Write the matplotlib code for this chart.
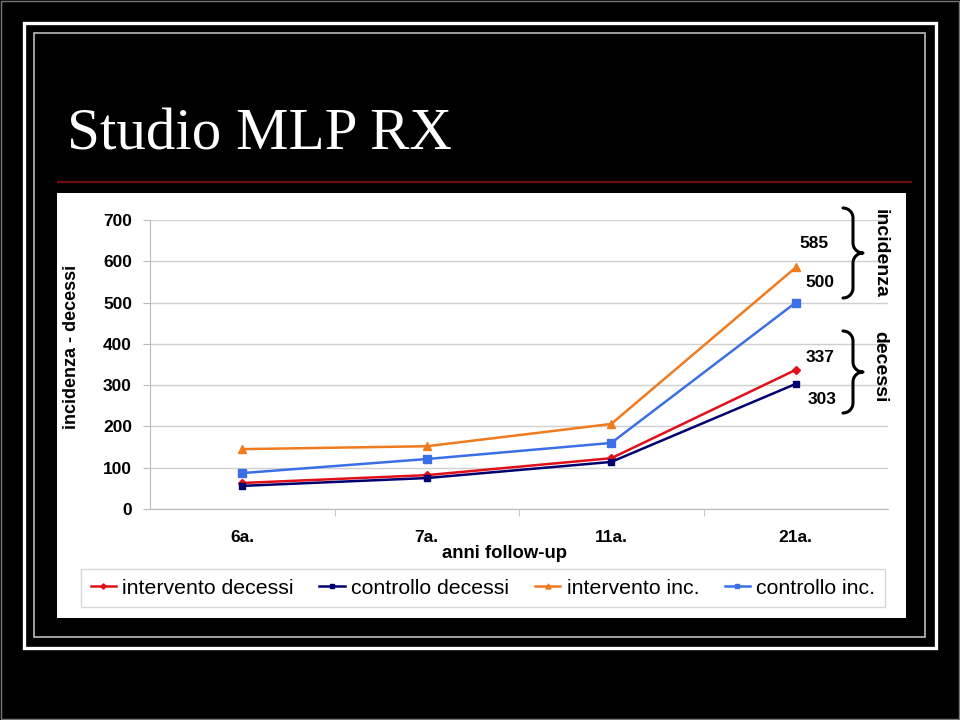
import numpy as np
import matplotlib.pyplot as plt
from matplotlib.patches import Rectangle

#
#   data
#
years = ["6a.", "7a.", "11a.", "21a."]
interventoDecessi = [63, 82, 123, 337]
controlloDecessi = [56, 75, 114, 303]
interventoInc = [145, 152, 206, 585]
controlloInc = [87, 121, 160, 500]
yTicks = [0, 100, 200, 300, 400, 500, 600, 700]

W, H = 960, 720
FONT = "Liberation Sans"


def fx(px):
    return px / W


def fy(py):
    return 1 - py / H


fig = plt.figure(figsize=(9.6, 7.2), dpi=100, facecolor="black")

# slide decoration: frames, title, rule, white panel
fig.patches.append(Rectangle((fx(1), fy(719)), fx(958), 718 / H, transform=fig.transFigure,
                             fill=False, edgecolor="#777777", lw=1, zorder=-5))
fig.patches.append(Rectangle((fx(24), fy(648)), fx(912), 625 / H, transform=fig.transFigure,
                             fill=False, edgecolor="white", lw=2.4, zorder=-5))
fig.patches.append(Rectangle((fx(34), fy(637)), fx(891), 604 / H, transform=fig.transFigure,
                             fill=False, edgecolor="#BBBBBB", lw=1.2, zorder=-5))
fig.patches.append(Rectangle((fx(57), fy(618)), fx(849), 425 / H, transform=fig.transFigure,
                             facecolor="white", edgecolor="none", zorder=-5))
fig.lines.append(plt.Line2D([fx(58), fx(911)], [fy(182), fy(182)], transform=fig.transFigure,
                            color="#6E0C10", lw=1.6, zorder=-5))
fig.text(fx(67), fy(150), "Studio MLP RX", color="white", fontsize=42.5,
         family="Liberation Serif", ha="left", va="baseline")

#
#   plot
#
ax = fig.add_axes([fx(150), fy(509), fx(738), 289 / H], zorder=2)
ax.set_facecolor("white")
x = np.arange(len(years))

ax.plot(x, interventoInc, color="#F07A1E", marker="^", ms=6, lw=1.8, label="intervento inc.", zorder=3)
ax.plot(x, controlloInc, color="#3B6FE6", marker="s", ms=6, lw=1.8, label="controllo inc.", zorder=3)
ax.plot(x, interventoDecessi, color="#E0101A", marker="D", ms=4.5, lw=1.8, label="intervento decessi", zorder=4)
ax.plot(x, controlloDecessi, color="#000070", marker="s", ms=5, lw=1.8, label="controllo decessi", zorder=4)

ax.set_xlim(-0.5, len(years) - 0.5)
ax.set_ylim(0, 700)
ax.set_yticks(yTicks)
ax.set_yticklabels([str(t) for t in yTicks], fontsize=12.5, fontweight="bold", family=FONT)
ax.set_xticks(x)
ax.set_xticklabels(years, fontsize=12.5, fontweight="bold", family=FONT)
ax.set_xticks(np.arange(0.5, len(years) - 0.5), minor=True)
ax.tick_params(axis="x", which="major", length=0, pad=15)
ax.tick_params(axis="x", which="minor", length=5, color="#BBBBBB", direction="out")
ax.tick_params(axis="y", length=5, color="#BBBBBB", pad=8)
ax.grid(axis="y", color="#CFCFCF", lw=1)
ax.set_axisbelow(True)
for s in ["top", "right"]:
    ax.spines[s].set_visible(False)
for s in ["left", "bottom"]:
    ax.spines[s].set_color("#BBBBBB")

fig.text(fx(71), fy(347), "incidenza - decessi", rotation=90, fontsize=13, fontweight="bold",
         family=FONT, ha="center", va="center")
fig.text(fx(505), fy(553), "anni follow-up", fontsize=13.3, fontweight="bold", family=FONT,
         ha="center", va="center")

# value labels at the last point
labelPos = [(814, 243, interventoInc[-1]), (820, 283, controlloInc[-1]),
            (820, 357, interventoDecessi[-1]), (822, 400, controlloDecessi[-1])]
for px, py, v in labelPos:
    fig.text(fx(px), fy(py), str(v), fontsize=12.5, fontweight="bold", family=FONT,
             ha="center", va="center")


def brace(x0, y0, y1, r=10):
    # right curly brace drawn in pixel coords (y down)
    ym = (y0 + y1) / 2
    s = x0 + r
    th = np.linspace(0, np.pi / 2, 20)
    top = [(x0 + r * np.sin(a), y0 + r - r * np.cos(a)) for a in th]
    mid1 = [(s + r - r * np.cos(a), ym - r + r * np.sin(a)) for a in th]
    mid2 = [(s + r - r * np.cos(a), ym + r - r * np.sin(a)) for a in th[::-1]]
    bot = [(x0 + r * np.sin(a), y1 - r + r * np.cos(a)) for a in th[::-1]]
    pts = top + mid1 + mid2 + bot
    xs = [fx(p[0]) for p in pts]
    ys = [fy(p[1]) for p in pts]
    fig.lines.append(plt.Line2D(xs, ys, transform=fig.transFigure, color="black", lw=2.2,
                                solid_capstyle="round", solid_joinstyle="round"))


brace(843, 208, 298)
brace(843, 331, 413)
fig.text(fx(880), fy(253), "incidenza", rotation=-90, fontsize=14, fontweight="bold",
         family=FONT, ha="center", va="center")
fig.text(fx(880), fy(367), "decessi", rotation=-90, fontsize=14, fontweight="bold",
         family=FONT, ha="center", va="center")

# legend
handles, labels = ax.get_legend_handles_labels()
order = [2, 3, 0, 1]
leg = fig.legend([handles[i] for i in order], [labels[i] for i in order], ncol=4,
                 loc="center", bbox_to_anchor=(fx(483), fy(588)), frameon=True, fancybox=False,
                 prop={"family": FONT, "size": 15.3}, handlelength=1.2,
                 handletextpad=0.3, columnspacing=1.2, markerscale=0.6, borderpad=0.45)
leg.get_frame().set_edgecolor("#CCCCCC")
leg.get_frame().set_linewidth(1)
leg.set_zorder(3)

fig.savefig("out.png", dpi=100, facecolor="black")
